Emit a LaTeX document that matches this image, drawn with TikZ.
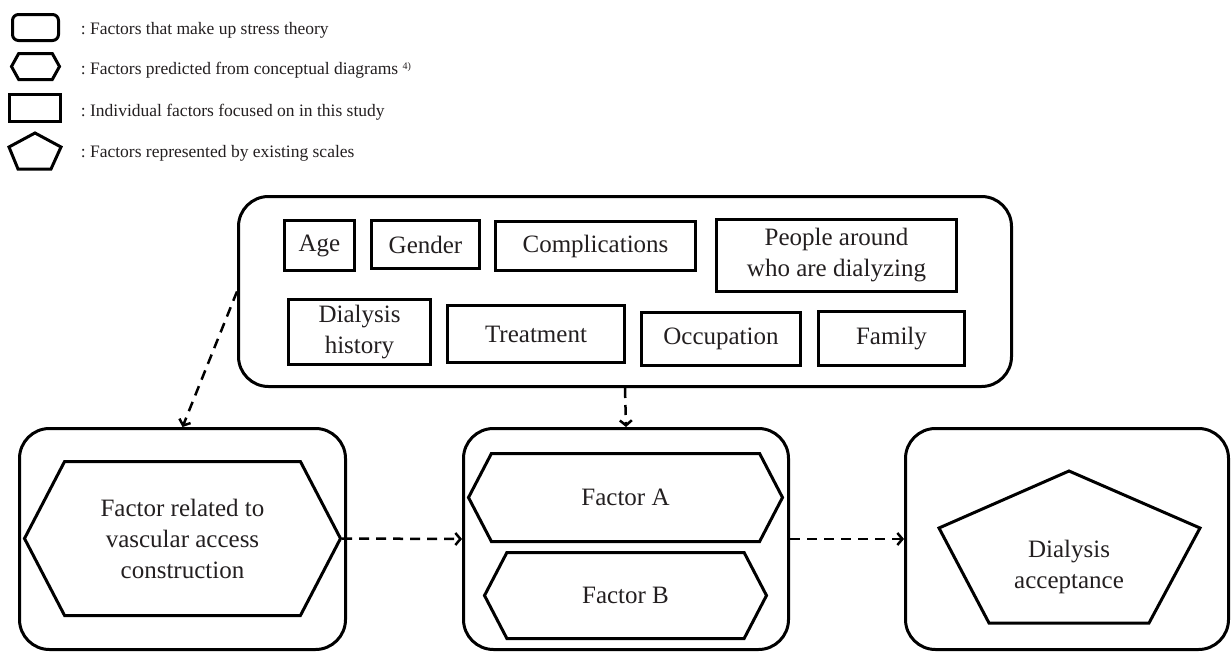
\documentclass[tikz,border=0pt]{standalone}
\usepackage{fontspec}
\setmainfont{Liberation Serif}
\usetikzlibrary{shapes.symbols,arrows.meta}
\definecolor{ink}{RGB}{35,31,32}
\begin{document}
\begin{tikzpicture}[x=1pt,y=-1pt,line width=3pt,text=ink,
        font=\fontsize{25}{31}\selectfont]
            \useasboundingbox (0,0) rectangle (1231,653);

            \begin{scope}[every node/.style={font=\fontsize{17.5}{21}\selectfont,anchor=west}]

                \node[draw,rounded corners=6pt,minimum width=46,minimum height=26,anchor=center] (keyround) at (35.5,27.5) {};
                \node[draw,signal,signal to=west and east,signal pointer angle=122,minimum width=48,minimum height=26,anchor=center] (keyhex) at (35.5,66.5) {};
                \node[draw,minimum width=51,minimum height=27,anchor=center] (keyrect) at (35,108) {};
                \draw (35,133) -- (61,147) -- (51,169) -- (18,169) -- (9,147) -- cycle;

                \node (keyroundtxt) at (76,30) {:\ Factors that make up stress theory};
                \node (keyhextxt) at (76,70) {:\ Factors predicted from conceptual diagrams \raisebox{5pt}{\fontsize{10}{10}\selectfont 4)}};
                \node (keyrecttxt) at (76,112) {:\ Individual factors focused on in this study};
                \node (keypenttxt) at (76,153) {:\ Factors represented by existing scales};

            \end{scope}

            \node[draw,rounded corners=30pt,minimum width=773,minimum height=190] (personal) at (625,291.5) {};
            \node[draw,rounded corners=30pt,minimum width=326,minimum height=221] (vascular) at (182.5,539) {};
            \node[draw,rounded corners=30pt,minimum width=325,minimum height=221] (middle) at (626,539) {};
            \node[draw,rounded corners=30pt,minimum width=323,minimum height=221] (scales) at (1067,539) {};

            \begin{scope}[every node/.style={draw,align=center,inner sep=2pt}]

                \node[minimum width=70,minimum height=50] (age) at (319.5,245.5) {Age};
                \node[minimum width=108,minimum height=48] (gender) at (425.5,244.5) {Gender};
                \node[minimum width=200,minimum height=49] (compl) at (595.5,246) {Complications};
                \node[minimum width=240,minimum height=72] (people) at (836.5,255.5) {People around\\who are dialyzing};
                \node[minimum width=142,minimum height=65] (history) at (359.5,332) {Dialysis\\history};
                \node[minimum width=177,minimum height=57] (treat) at (536,334) {Treatment};
                \node[minimum width=159,minimum height=53] (occup) at (721,339) {Occupation};
                \node[minimum width=146,minimum height=54] (family) at (891.5,338.5) {Family};

            \end{scope}
            \begin{scope}[every node/.style={draw,signal,signal to=west and east,signal pointer angle=125,align=center,inner sep=2pt}]

                \node[minimum width=316,minimum height=154] (access) at (182.5,538.5) {Factor related to\\vascular access\\construction};
                \node[minimum width=314,minimum height=88] (facA) at (625.5,497.5) {Factor A};
                \node[minimum width=282,minimum height=86] (facB) at (625.5,595.5) {Factor B};

            \end{scope}

            \draw (1069,471) -- (1200,528) -- (1149,623) -- (989,623) -- (939,528) -- cycle;
            \node[align=center] (accept) at (1069,567) {Dialysis\\acceptance};

            \begin{scope}[every edge/.style={draw,line width=2.5pt,
                            dash pattern=on 10pt off 7pt,
                            -{Straight Barb[length=5pt,width=12pt]}}]
                \path (personal.west) edge (vascular.north);
                \path (personal.south) edge (middle.north);
                \path (access.east) edge (middle.west);
                \path (middle.east) edge (scales.west);
            \end{scope}

        \end{tikzpicture}
\end{document}
